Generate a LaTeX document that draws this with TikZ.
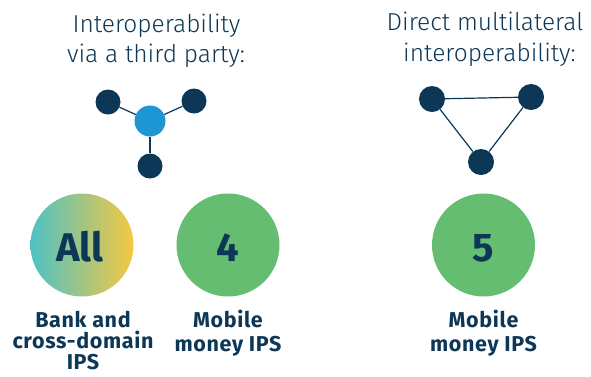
\documentclass[tikz,border=0pt]{standalone}
\usepackage{fontspec}
\setmainfont{Fira Sans}
\newfontfamily\lightfont{Fira Sans Light}
\newfontfamily\labelfont[LetterSpace=3]{Fira Sans}
\definecolor{navy}{HTML}{0C3756}
\definecolor{hubblue}{HTML}{1E96D3}
\definecolor{ipsgreen}{HTML}{64BD70}
\definecolor{teal}{HTML}{4EC2C4}
\definecolor{sun}{HTML}{F5C842}
\tikzset{
  title/.style={anchor=base, inner sep=0, text=navy, font=\lightfont\fontsize{24.5}{28}\selectfont},
  label/.style={anchor=base, inner sep=0, text=navy, font=\labelfont\bfseries\fontsize{21.5}{25}\selectfont},
  bignum/.style={anchor=base, inner sep=0, text=navy, font=\bfseries\fontsize{40}{44}\selectfont},
  member/.style={circle, fill=navy, inner sep=0, minimum size=25pt},
  hub/.style={circle, fill=hubblue, inner sep=0, minimum size=31pt},
  link/.style={draw=navy, line width=1.2pt},
}
\begin{document}
\begin{tikzpicture}[x=1pt, y=-1pt]
\useasboundingbox (0,0) rectangle (591,376);

% titles
\node[title] (t1a) at (156.5,32) {Interoperability};
\node[title] (t1b) at (156,62) {via a third party:};
\node[title] (t2a) at (485,30) {Direct multilateral};
\node[title] (t2b) at (489.5,61) {interoperability:};

% third-party hub network
\node[hub] (c) at (150,121) {};
\node[member] (a) at (108,102) {};
\node[member] (b) at (194,101) {};
\node[member] (d) at (150,166) {};
\draw[link] (c) -- (a);
\draw[link] (c) -- (b);
\draw[link] (c) -- (d);

% direct multilateral triangle
\node[member, minimum size=26pt] (p) at (432,99) {};
\node[member, minimum size=26pt] (q) at (531,97) {};
\node[member, minimum size=26pt] (s) at (481,162) {};
\draw[link] (p) -- (q);
\draw[link] (q) -- (s);
\draw[link] (s) -- (p);

% count circles
\shade[left color=teal, right color=sun] (82,245) circle (51.5);
\node[bignum] (nall) at (80,261) {All};
\fill[ipsgreen] (228,245) circle (51.5);
\node[bignum] (nfour) at (228,261) {4};
\fill[ipsgreen] (483.5,245) circle (51.5);
\node[bignum] (nfive) at (483.5,261) {5};

% category labels
\node[label] (l1a) at (83,327) {Bank and};
\node[label] (l1b) at (83,348.5) {cross-domain};
\node[label] (l1c) at (83,369.5) {IPS};
\node[label] (l2a) at (228,327.5) {Mobile};
\node[label] (l2b) at (228,351) {money IPS};
\node[label] (l3a) at (483.5,327.5) {Mobile};
\node[label] (l3b) at (483.5,351) {money IPS};
\end{tikzpicture}
\end{document}
